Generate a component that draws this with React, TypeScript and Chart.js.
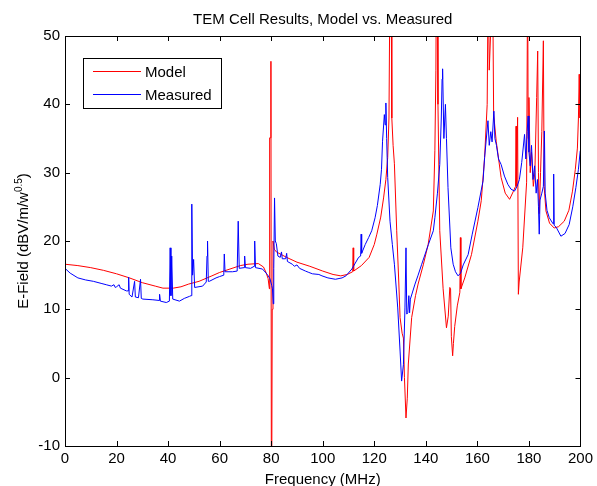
import React, { useEffect, useRef } from "react";
import { Chart, registerables } from "chart.js";

Chart.register(...registerables);

const FONT = "'Liberation Sans', Arial, Helvetica, sans-serif";

const titleText = "TEM Cell Results, Model vs. Measured";
const xAxisTitle = "Frequency (MHz)";
const yAxisTitleMain = "E-Field (dBV/m/w";
const yAxisTitleSup = "0.5";
const yAxisTitleEnd = ")";
const seriesNames = ["Model", "Measured"];
const seriesColors = ["#ff0000", "#0000ff"];

const xTicks = [0, 20, 40, 60, 80, 100, 120, 140, 160, 180, 200];
const yTicks = [-10, 0, 10, 20, 30, 40, 50];

const modelFreq = [
  0, 5, 10, 15, 20, 25, 30, 35, 38, 42, 45, 48, 52, 57, 60, 64, 68, 71, 75, 77,
  78, 78.8, 79.3, 79.4, 79.7, 79.9, 80.1, 80.4, 80.7, 81.2, 82, 86, 90, 95, 100,
  104, 107, 109.5, 111.6, 111.8, 112, 115, 118, 120, 121, 122.5, 123.6, 124.5,
  125.2, 125.7, 126.1, 126.5, 126.8, 127.3, 127.8, 128.7, 129.5, 130, 130.8,
  131.3, 131.7, 132.3, 132.8, 133.2, 134.5, 136, 137, 139, 140.9, 142.9, 143.5,
  143.9, 144.1, 144.4, 144.7, 145.4, 146.7, 148, 148.7, 149.3, 149.6, 149.9,
  150.4, 150.7, 151.2, 152.2, 153.2, 153.4, 153.6, 155.1, 157.7, 160.2, 161.5,
  162.8, 163.8, 164.2, 164.6, 165.3, 165.9, 166.3, 167.3, 169.2, 170.8, 172.5,
  174, 174.8, 175, 175.2, 175.6, 175.9, 176.2, 177.6, 179.1, 179.5, 179.7, 180,
  180.5, 181, 181.7, 182.3, 183, 183.4, 183.7, 184, 184.5, 185, 185.6, 185.9,
  186.6, 188, 189.8, 191.5, 193.7, 195.5, 196.9, 198, 198.8, 199.2, 199.5,
  199.8, 200,
];
const modelValue = [
  16.6, 16.4, 16.1, 15.7, 15.2, 14.6, 13.9, 13.4, 13.1, 13.1, 13.3, 13.7, 14.1,
  14.9, 15.4, 15.9, 16.4, 16.6, 16.7, 16.2, 15.4, 14.5, 13, 35.1, 35.1, 46.3,
  -30, 10, 20, 18.8, 18.4, 17.6, 16.9, 16.3, 15.6, 15.1, 14.9, 15.1, 15.5, 19,
  15.6, 16.4, 17.6, 19.5, 21, 23.5, 26.3, 29, 32.2, 38, 60, 60, 38, 34, 31.3,
  21.5, 14, 8.8, 6.5, 5.8, 0, -5.9, -3, 2, 8.8, 12, 13.7, 16.5, 19.5, 24.4,
  33.2, 45, 60, 60, 40, 21.5, 13, 7.3, 9, 13.2, 13, 6, 3.2, 5, 7.5, 10.5, 12.5,
  20.5, 13, 14.6, 18, 22.9, 25.9, 32.2, 40, 60, 45, 52, 60, 38.6, 34.6, 29.3,
  27, 26.1, 27.3, 28, 36.8, 28, 38.1, 12.2, 14, 19, 28.6, 60, 35, 41, 30, 33,
  28, 30, 41, 47.8, 30, 24, 30, 36, 49.3, 28, 24.4, 22.6, 21.9, 22.1, 22.9,
  24.5, 27.3, 30.5, 33.6, 38, 44.4, 38, 38,
];

const measuredFreq = [
  0, 2, 5, 8, 11, 14, 16, 18, 19, 19.5, 20, 21, 21.5, 23.8, 24.5, 24.7, 24.9,
  26, 27, 27.3, 28.5, 29.3, 29.6, 30.2, 34.1, 36.5, 36.7, 37, 39.3, 40.5, 40.8,
  41.1, 41.4, 41.8, 44.4, 46.3, 48.3, 48.9, 49.2, 49.5, 49.9, 50.3, 53.4, 54.8,
  55.1, 55.3, 55.6, 56, 58.6, 60, 61.6, 61.8, 62.1, 65, 66.8, 67.2, 67.6, 69.5,
  69.7, 70, 72, 73.4, 73.6, 73.9, 76.6, 78.5, 79.5, 80.2, 80.5, 80.8, 81,
  81.3, 81.6, 82, 82.6, 83.5, 84, 84.3, 85.6, 86, 86.3, 88.2, 89, 90, 91, 93.3,
  94.6, 96, 98.5, 99.7, 102, 104.9, 107.5, 109, 111.3, 113.9, 114.7, 114.9,
  115.1, 116.5, 117.8, 119, 120.3, 121.2, 122.3, 122.8, 123.2, 123.9, 124.2,
  124.5, 124.8, 125.2, 126.1, 127, 127.8, 129.1, 130, 130.6, 131.3, 131.9,
  132.3, 132.6, 133, 133.4, 133.7, 134, 135.8, 137, 138.4, 141, 142.9, 143.5,
  144.5, 145.4, 146, 146.3, 146.5, 147, 147.6, 148, 148.6, 149.7, 150.6,
  151.5, 152.5, 153.5, 154.5, 156.4, 158, 160.2, 162.2, 162.8, 164.1, 164.6,
  165.2, 165.7, 166.4, 166.8, 167.4, 168.2, 169.2, 170.5, 171.8, 173, 174.4,
  175.4, 176.3, 177.2, 178.3, 178.8, 179.3, 179.7, 180, 180.5, 181, 181.6,
  182.2, 182.8, 183.3, 183.7, 184, 184.3, 185, 185.6, 186, 186.3, 187, 187.9,
  189.4, 189.6, 189.8, 190.6, 192.4, 194, 195.6, 197, 198.2, 199.2, 199.9,
];
const measuredValue = [
  16.0, 15.3, 14.6, 14.3, 14.1, 13.8, 13.6, 13.4, 13.6, 13.2, 13.3, 13.6, 13.1,
  12.7, 12.7, 14.7, 12.2, 11.8, 14.1, 11.8, 11.7, 14.4, 11.6, 11.5, 11.4, 11.3,
  12.2, 11.2, 11.0, 11.2, 19.0, 12, 17.8, 11.5, 11.2, 11.6, 11.9, 12, 25.4, 15,
  17.3, 13.2, 13.4, 14, 17.8, 20.0, 14.1, 14.1, 14.6, 14.8, 15, 18.1, 15.5,
  15.5, 15.6, 22.9, 16, 16.1, 17.8, 16.1, 16, 16.3, 20, 16.1, 15.9, 15.1, 14.5,
  13.5, 13, 10.8, 16, 26.3, 20, 19.6, 17.8, 17.6, 18.4, 17.4, 17.4, 18.2, 17,
  16.6, 16.3, 16.5, 16, 15.6, 15.4, 15.2, 15.1, 14.9, 14.6, 14.4, 14.6, 14.9,
  15.9, 17.6, 17.8, 21, 18.2, 19.5, 20.5, 21.5, 23.4, 25.2, 28.3, 30.5, 34.6,
  38.5, 37, 40.2, 35, 29.3, 22.9, 19.5, 16.6, 10.2, 3.9, -0.5, 1.9, 10.2, 19,
  9.3, 9.5, 12, 9.5, 11.5, 13.7, 15, 16.6, 19.5, 21.5, 23.4, 27, 31.2, 38,
  43.7, 45.2, 35, 40, 35, 27.8, 19, 16.6, 15.5, 14.9, 15.3, 16.5, 18, 21, 24.9,
  28.8, 32.2, 37.6, 34, 36, 34.5, 39.0, 35, 34, 32, 31.2, 29.5, 28.3, 27.6,
  27.3, 28, 29, 31.5, 35.6, 32, 36, 38.3, 33, 31, 34, 29, 31, 27, 29, 25, 21,
  26, 27, 28, 36.1, 27, 24.5, 23.4, 22.5, 29.8, 22.3, 22, 20.7, 21.1, 22.4, 25,
  27.8, 30.5, 33.2,
];

const toPoints = (xs: number[], ys: number[]) =>
  xs.map((x, i) => ({ x, y: ys[i] }));

const matlabFrame = {
  id: "matlabFrame",
  afterDraw(chart: any) {
    const { ctx, chartArea } = chart;
    const { left, right, top, bottom } = chartArea;
    const xs = chart.scales.x;
    const ys = chart.scales.y;
    ctx.save();
    ctx.strokeStyle = "#000";
    ctx.lineWidth = 1;
    ctx.strokeRect(Math.round(left) + 0.5, Math.round(top) + 0.5, Math.round(right - left), Math.round(bottom - top));
    const tl = 5;
    ctx.beginPath();
    xs.ticks.forEach((t: any) => {
      const p = Math.round(xs.getPixelForValue(t.value)) + 0.5;
      ctx.moveTo(p, bottom);
      ctx.lineTo(p, bottom - tl);
      ctx.moveTo(p, top);
      ctx.lineTo(p, top + tl);
    });
    ys.ticks.forEach((t: any) => {
      const p = Math.round(ys.getPixelForValue(t.value)) + 0.5;
      ctx.moveTo(left, p);
      ctx.lineTo(left + tl, p);
      ctx.moveTo(right, p);
      ctx.lineTo(right - tl, p);
    });
    ctx.stroke();

    ctx.fillStyle = "#000";
    ctx.font = `15px ${FONT}`;
    ctx.textAlign = "center";
    ctx.textBaseline = "alphabetic";
    ctx.fillText(titleText, (left + right) / 2, 24);
    ctx.fillText(xAxisTitle, (left + right) / 2, 484);

    ctx.save();
    ctx.translate(23, (top + bottom) / 2);
    ctx.rotate(-Math.PI / 2);
    ctx.font = `15px ${FONT}`;
    const w1 = ctx.measureText(yAxisTitleMain).width;
    const w3 = ctx.measureText(yAxisTitleEnd).width;
    ctx.font = `10px ${FONT}`;
    const w2 = ctx.measureText(yAxisTitleSup).width;
    const total = w1 + w2 + w3;
    let x0 = -total / 2;
    ctx.textAlign = "left";
    ctx.textBaseline = "alphabetic";
    ctx.font = `15px ${FONT}`;
    ctx.fillText(yAxisTitleMain, x0, 5);
    x0 += w1;
    ctx.font = `10px ${FONT}`;
    ctx.fillText(yAxisTitleSup, x0, -1);
    x0 += w2;
    ctx.font = `15px ${FONT}`;
    ctx.fillText(yAxisTitleEnd, x0, 5);
    ctx.restore();

    const lx = 83, ly = 58, lw = 138, lh = 50;
    ctx.fillStyle = "#fff";
    ctx.fillRect(lx, ly, lw, lh);
    ctx.strokeStyle = "#000";
    ctx.strokeRect(lx + 0.5, ly + 0.5, lw, lh);
    const rows = [71.5, 94.5];
    ctx.font = `15px ${FONT}`;
    ctx.textAlign = "left";
    ctx.textBaseline = "middle";
    seriesNames.forEach((name, i) => {
      ctx.strokeStyle = seriesColors[i];
      ctx.beginPath();
      ctx.moveTo(93, rows[i]);
      ctx.lineTo(141, rows[i]);
      ctx.stroke();
      ctx.fillStyle = "#000";
      ctx.fillText(name, 145, rows[i] + 1);
    });
    ctx.restore();
  },
};

export default function App() {
  const ref = useRef<HTMLCanvasElement | null>(null);
  useEffect(() => {
    if (!ref.current) return;
    const chart = new Chart(ref.current, {
      type: "line",
      data: {
        datasets: [
          {
            label: seriesNames[0],
            data: toPoints(modelFreq, modelValue),
            borderColor: seriesColors[0],
            backgroundColor: seriesColors[0],
            borderWidth: 1,
            pointRadius: 0,
            tension: 0,
            fill: false,
            order: 1,
            clip: 0,
          },
          {
            label: seriesNames[1],
            data: toPoints(measuredFreq, measuredValue),
            borderColor: seriesColors[1],
            backgroundColor: seriesColors[1],
            borderWidth: 1,
            pointRadius: 0,
            tension: 0,
            fill: false,
            order: 0,
            clip: 0,
          },
        ],
      },
      options: {
        responsive: false,
        animation: false,
        devicePixelRatio: 1,
        layout: { padding: { top: 36, right: 14, left: 0, bottom: 0 } },
        plugins: {
          legend: { display: false },
          title: { display: false },
          tooltip: { enabled: false },
        },
        scales: {
          x: {
            type: "linear",
            min: 0,
            max: 200,
            afterBuildTicks: (s: any) => {
              s.ticks = xTicks.map((v) => ({ value: v }));
            },
            afterFit: (s: any) => {
              s.height = 40;
            },
            grid: { display: false, drawTicks: false },
            border: { display: true, color: "#000", width: 1 },
            ticks: {
              font: { family: FONT, size: 15 },
              color: "#000",
              padding: 4,
              maxRotation: 0,
              autoSkip: false,
            },
          },
          y: {
            type: "linear",
            min: -10,
            max: 50,
            afterBuildTicks: (s: any) => {
              s.ticks = yTicks.map((v) => ({ value: v }));
            },
            afterFit: (s: any) => {
              s.width = 65;
            },
            grid: { display: false, drawTicks: false },
            border: { display: true, color: "#000", width: 1 },
            ticks: {
              font: { family: FONT, size: 15 },
              color: "#000",
              padding: 5,
              autoSkip: false,
            },
          },
        },
      },
      plugins: [matlabFrame],
    });
    return () => chart.destroy();
  }, []);
  return (
    <div style={{ position: "absolute", left: 0, top: 0, width: 597, height: 486, background: "#fff" }}>
      <canvas ref={ref} width={597} height={486} style={{ width: 597, height: 486, display: "block" }} />
    </div>
  );
}
